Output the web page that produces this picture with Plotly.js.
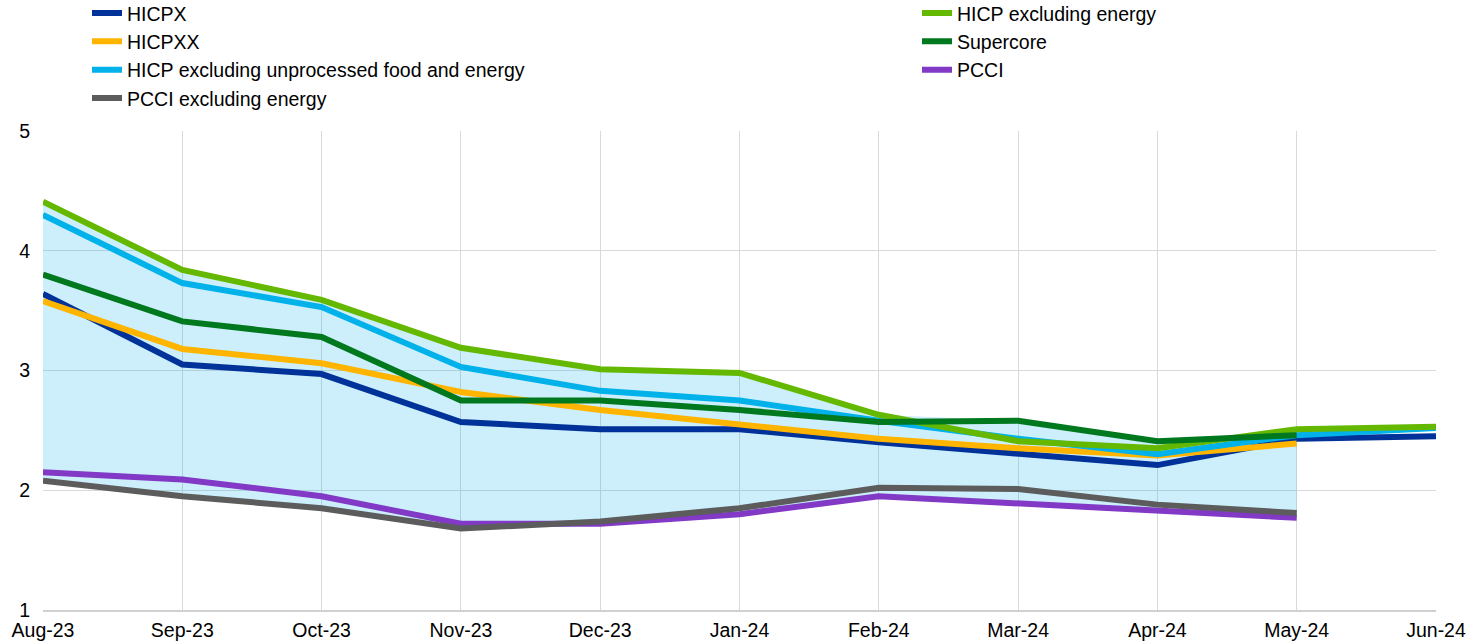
<!DOCTYPE html>
<html>
<head>
<meta charset="utf-8">
<script src="https://cdn.plot.ly/plotly-3.0.1.min.js"></script>
<style>html,body{margin:0;padding:0;background:#fff;}#chart{width:1473px;height:644px;}</style>
</head>
<body>
<div id="chart"></div>
<script>
const months = ["Aug-23","Sep-23","Oct-23","Nov-23","Dec-23","Jan-24","Feb-24","Mar-24","Apr-24","May-24","Jun-24"];
const hicpx = [3.64, 3.05, 2.97, 2.57, 2.51, 2.51, 2.40, 2.31, 2.21, 2.43, 2.45];
const hicpxx = [3.58, 3.18, 3.06, 2.82, 2.67, 2.55, 2.43, 2.35, 2.29, 2.39, null];
const hicpExUnprocEnergy = [4.30, 3.73, 3.53, 3.03, 2.83, 2.75, 2.58, 2.43, 2.30, 2.46, 2.52];
const hicpExEnergy = [4.41, 3.84, 3.59, 3.19, 3.01, 2.98, 2.63, 2.41, 2.35, 2.51, 2.53];
const supercore = [3.80, 3.41, 3.28, 2.75, 2.75, 2.67, 2.57, 2.58, 2.41, 2.46, null];
const pcci = [2.15, 2.09, 1.95, 1.72, 1.72, 1.80, 1.95, 1.89, 1.83, 1.77, null];
const pcciExEnergy = [2.08, 1.95, 1.85, 1.68, 1.74, 1.85, 2.02, 2.01, 1.88, 1.81, null];
const yTicks = [1, 2, 3, 4, 5];

const allSeries = [hicpx, hicpxx, hicpExUnprocEnergy, hicpExEnergy, supercore, pcci, pcciExEnergy];
const rangeMonths = months.slice(0, 10);
const rangeLow = rangeMonths.map((m, i) => Math.min(...allSeries.map(s => s[i]).filter(v => v !== null)));
const rangeHigh = rangeMonths.map((m, i) => Math.max(...allSeries.map(s => s[i]).filter(v => v !== null)));

const W = 6;
function line(name, y, color, legend) {
  return {type: 'scatter', mode: 'lines', x: months, y: y, name: name, legend: legend,
    line: {color: color, width: W}, hoverinfo: 'skip'};
}
const traces = [
  {type:'scatter', mode:'lines', x: rangeMonths, y: rangeLow, line:{width:0}, showlegend:false, hoverinfo:'skip'},
  {type:'scatter', mode:'lines', x: rangeMonths, y: rangeHigh, line:{width:0}, fill:'tonexty', fillcolor:'rgba(0,177,234,0.2)', showlegend:false, hoverinfo:'skip'},
  line('HICPX', hicpx, '#003299', 'legend'),
  line('HICPXX', hicpxx, '#FFB400', 'legend'),
  line('HICP excluding unprocessed food and energy', hicpExUnprocEnergy, '#00B1EA', 'legend'),
  line('HICP excluding energy', hicpExEnergy, '#65B800', 'legend2'),
  line('Supercore', supercore, '#00781E', 'legend2'),
  line('PCCI', pcci, '#8139C6', 'legend2'),
  line('PCCI excluding energy', pcciExEnergy, '#5C5C5C', 'legend')
];
const font = {family: 'Liberation Sans, Arial, sans-serif', size: 19.5, color: '#000'};
const legendFont = {family: 'Liberation Sans, Arial, sans-serif', size: 19.5, color: '#000'};
const layout = {
  width: 1473, height: 644,
  margin: {l: 0, r: 0, t: 0, b: 0, autoexpand: false},
  paper_bgcolor: '#fff', plot_bgcolor: '#fff',
  font: font,
  showlegend: true,
  xaxis: {type: 'category', categoryorder: 'array', categoryarray: months, range: [0, 10],
    domain: [43/1473, 1436/1473], automargin: false,
    showgrid: true, gridcolor: '#d9d9d9', gridwidth: 1, showline: true, linecolor: '#d0d0d0', linewidth: 2,
    ticks: '', tickfont: font, ticklabelstandoff: 2, zeroline: false, fixedrange: true},
  yaxis: {range: [1, 5], tickvals: yTicks, ticktext: yTicks.map(String),
    domain: [(644-610)/644, (644-131)/644], automargin: false,
    showgrid: true, gridcolor: '#d9d9d9', gridwidth: 1,
    zeroline: false, showline: false, ticks: '', tickfont: font, ticklabelstandoff: 12, fixedrange: true},
  legend: {x: 87/1473, xanchor: 'left', y: 1.0096, yanchor: 'top', orientation: 'v', bgcolor: 'rgba(0,0,0,0)',
    font: legendFont, itemwidth: 30, tracegroupgap: 0, traceorder: 'normal'},
  legend2: {x: 917/1473, xanchor: 'left', y: 1.0097, yanchor: 'top', orientation: 'v', bgcolor: 'rgba(0,0,0,0)',
    font: legendFont, itemwidth: 30, tracegroupgap: 0, traceorder: 'normal'}
};
Plotly.newPlot('chart', traces, layout, {displayModeBar: false, staticPlot: true});
</script>
</body>
</html>
